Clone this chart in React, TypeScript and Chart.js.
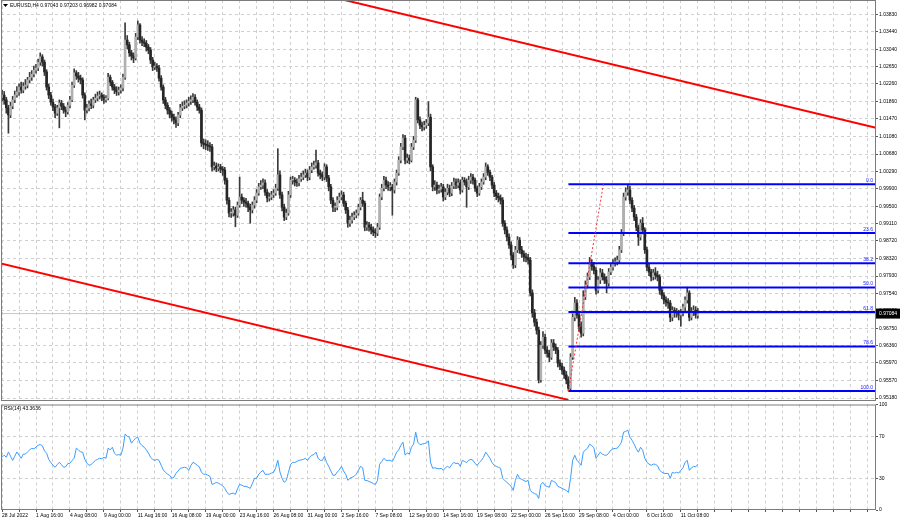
import React, { useEffect, useRef } from 'react';
import { Chart, registerables } from 'chart.js';
Chart.register(...registerables);

// Prices in 1/10000 units (EURUSD H4), bar 0 = 28 Jul 2022 00:00
const opens = [
10195,10201,10190,10172,10156,10176,10190,10201,10208,10219,
10212,10221,10223,10235,10241,10248,10257,10262,10275,10287,
10275,10253,10219,10201,10185,10174,10160,10172,10183,10176,
10167,10163,10178,10190,10223,10251,10244,10239,10235,10201,
10167,10172,10181,10178,10190,10194,10199,10201,10196,10190,
10194,10241,10230,10219,10212,10208,10212,10217,10241,10325,
10314,10296,10289,10284,10332,10359,10325,10320,10318,10309,
10302,10280,10264,10266,10262,10239,10219,10190,10178,10167,
10158,10151,10145,10138,10156,10172,10176,10178,10183,10187,
10190,10196,10185,10174,10167,10093,10090,10088,10086,10084,
10039,10041,10036,10039,10034,10032,10009,9964,9935,9935,
9942,9930,9953,9971,9964,9960,9957,9948,9942,9953,
9964,9980,9994,9998,10003,9982,9969,9971,9976,9980,
9991,10021,9976,9948,9926,9935,9976,10009,10009,10005,
10003,10012,10016,10021,10025,10016,10032,10039,10043,10048,
10025,10021,10016,10039,10014,9994,9964,9948,9948,9964,
9971,9976,9957,9942,9912,9919,9926,9930,9935,9948,
9964,9957,9903,9908,9903,9897,9892,9890,9903,9971,
9991,10009,9998,9994,9994,9987,10005,10025,10054,10084,
10104,10054,10059,10054,10084,10099,10190,10145,10133,10129,
10133,10138,10151,10039,9994,9998,9987,9989,9994,9971,
9982,9991,9980,9996,10005,9998,10003,9987,10009,10005,
9994,10009,10016,10009,9991,9980,9994,10005,10016,10039,
10027,10016,9998,9980,9973,9969,9964,9912,9897,9881,
9863,9840,9818,9852,9874,9852,9843,9836,9834,9829,
9755,9710,9689,9671,9559,9637,9655,9626,9619,9610,
9642,9633,9626,9597,9590,9581,9570,9559,9540,9610,
9700,9732,9705,9678,9664,9746,9773,9791,9822,9815,
9806,9761,9784,9800,9791,9784,9777,9802,9813,9822,
9825,9829,9852,9890,9971,9982,9987,9964,9946,9926,
9903,9881,9912,9897,9852,9813,9802,9791,9800,9795,
9791,9761,9750,9739,9734,9732,9700,9716,9712,9710,
9705,9710,9723,9739,9755,9700,9712,9716,9704
];

const highs = [
10212,10209,10196,10178,10185,10198,10210,10220,10226,10230,
10229,10236,10241,10252,10256,10266,10270,10282,10296,10292,
10280,10258,10226,10207,10192,10180,10178,10190,10189,10182,
10174,10184,10198,10230,10260,10256,10252,10246,10240,10206,
10180,10188,10192,10196,10203,10208,10210,10206,10202,10200,
10250,10246,10234,10225,10220,10219,10224,10248,10364,10335,
10320,10302,10296,10340,10368,10362,10333,10328,10324,10315,
10308,10286,10275,10272,10268,10245,10224,10196,10184,10173,
10165,10158,10152,10162,10180,10185,10188,10190,10196,10199,
10204,10202,10190,10180,10172,10102,10100,10098,10094,10090,
10050,10048,10046,10045,10040,10038,10014,9970,9945,9950,
9948,9960,10016,9978,9970,9968,9962,9955,9960,9972,
9988,10002,10008,10012,10010,9988,9980,9984,9988,10000,
10080,10030,9982,9955,9944,9984,10016,10018,10015,10012,
10020,10025,10030,10034,10032,10040,10048,10052,10077,10054,
10032,10028,10046,10044,10020,10000,9970,9958,9972,9980,
9985,9982,9962,9948,9928,9935,9938,9942,9955,9970,
9982,9962,9916,9914,9910,9904,9900,9912,9978,10000,
10018,10016,10006,10004,10000,10012,10032,10062,10092,10112,
10110,10068,10066,10092,10108,10196,10194,10152,10140,10142,
10146,10186,10158,10044,10008,10005,9998,10002,10000,9990,
10000,9998,10004,10014,10012,10012,10010,10016,10015,10012,
10018,10024,10022,10014,9996,10002,10012,10024,10048,10044,
10032,10020,10004,9986,9980,9976,9970,9918,9904,9888,
9870,9846,9860,9882,9880,9860,9850,9845,9842,9835,
9762,9718,9696,9678,9645,9668,9662,9634,9626,9650,
9650,9640,9632,9604,9596,9588,9578,9566,9618,9708,
9745,9740,9712,9690,9760,9782,9800,9835,9830,9824,
9812,9792,9810,9808,9798,9792,9810,9822,9830,9834,
9838,9860,9898,9980,9992,10000,9996,9970,9952,9932,
9908,9920,9925,9902,9858,9820,9808,9808,9812,9804,
9796,9768,9756,9746,9742,9738,9724,9722,9720,9716,
9718,9730,9746,9768,9760,9722,9726,9724,9720
];

const lows = [
10188,10180,10160,10115,10150,10170,10184,10196,10200,10205,
10206,10214,10217,10228,10234,10242,10250,10256,10268,10266,
10245,10212,10193,10178,10166,10150,10155,10127,10168,10160,
10152,10158,10172,10186,10218,10236,10230,10226,10194,10145,
10160,10165,10170,10172,10184,10188,10192,10188,10182,10185,
10190,10222,10212,10204,10200,10201,10205,10210,10236,10305,
10288,10280,10274,10280,10326,10318,10312,10310,10300,10294,
10272,10256,10258,10254,10232,10212,10182,10170,10158,10150,
10142,10136,10128,10132,10150,10166,10170,10172,10176,10180,
10184,10178,10166,10160,10085,10080,10078,10076,10074,10030,
10032,10028,10030,10026,10020,10000,9955,9926,9925,9928,
9904,9925,9948,9956,9950,9948,9938,9912,9935,9946,
9958,9975,9988,9990,9975,9960,9962,9965,9970,9975,
9986,9968,9940,9918,9920,9930,9970,10000,9996,9995,
9996,10006,10010,10015,10008,10010,10026,10034,10036,10018,
10012,10008,10010,10006,9985,9956,9938,9938,9942,9958,
9965,9950,9934,9903,9905,9912,9920,9924,9930,9942,
9950,9895,9896,9894,9888,9884,9880,9884,9898,9965,
9985,9990,9986,9985,9930,9980,9998,10020,10048,10078,
10046,10048,10046,10050,10078,10094,10138,10125,10120,10122,
10126,10132,10030,9985,9986,9978,9980,9982,9962,9965,
9976,9972,9974,9990,9990,9992,9978,9982,9998,9948,
9988,10002,10000,9984,9972,9975,9988,10000,10010,10020,
10008,9990,9972,9965,9960,9955,9905,9888,9872,9855,
9830,9810,9812,9846,9844,9835,9826,9825,9820,9748,
9700,9680,9662,9552,9554,9630,9618,9610,9600,9605,
9625,9618,9588,9582,9572,9562,9550,9534,9536,9605,
9692,9698,9668,9655,9658,9740,9766,9785,9806,9798,
9752,9755,9776,9784,9776,9755,9770,9796,9806,9815,
9818,9822,9846,9884,9964,9975,9956,9938,9918,9895,
9862,9874,9888,9844,9805,9794,9782,9784,9786,9782,
9752,9742,9730,9725,9720,9690,9692,9700,9700,9694,
9680,9703,9715,9732,9692,9694,9704,9698,9698
];

const closes = [
10201,10190,10172,10156,10176,10190,10201,10208,10219,10212,
10221,10223,10235,10241,10248,10257,10262,10275,10287,10275,
10253,10219,10201,10185,10174,10160,10172,10183,10176,10167,
10163,10178,10190,10223,10251,10244,10239,10235,10201,10167,
10172,10181,10178,10190,10194,10199,10201,10196,10190,10194,
10241,10230,10219,10212,10208,10212,10217,10241,10325,10314,
10296,10289,10284,10332,10359,10325,10320,10318,10309,10302,
10280,10264,10266,10262,10239,10219,10190,10178,10167,10158,
10151,10145,10138,10156,10172,10176,10178,10183,10187,10190,
10196,10185,10174,10167,10093,10090,10088,10086,10084,10039,
10041,10036,10039,10034,10032,10009,9964,9935,9935,9942,
9930,9953,9971,9964,9960,9957,9948,9942,9953,9964,
9980,9994,9998,10003,9982,9969,9971,9976,9980,9991,
10021,9976,9948,9926,9935,9976,10009,10009,10005,10003,
10012,10016,10021,10025,10016,10032,10039,10043,10048,10025,
10021,10016,10039,10014,9994,9964,9948,9948,9964,9971,
9976,9957,9942,9912,9919,9926,9930,9935,9948,9964,
9957,9903,9908,9903,9897,9892,9890,9903,9971,9991,
10009,9998,9994,9994,9987,10005,10025,10054,10084,10104,
10054,10059,10054,10084,10099,10190,10145,10133,10129,10133,
10138,10151,10039,9994,9998,9987,9989,9994,9971,9982,
9991,9980,9996,10005,9998,10003,9987,10009,10005,9994,
10009,10016,10009,9991,9980,9994,10005,10016,10039,10027,
10016,9998,9980,9973,9969,9964,9912,9897,9881,9863,
9840,9818,9852,9874,9852,9843,9836,9834,9829,9755,
9710,9689,9671,9559,9637,9655,9626,9619,9610,9642,
9633,9626,9597,9590,9581,9570,9559,9540,9610,9700,
9732,9705,9678,9664,9746,9773,9791,9822,9815,9806,
9761,9784,9800,9791,9784,9777,9802,9813,9822,9825,
9829,9852,9890,9971,9982,9987,9964,9946,9926,9903,
9881,9912,9897,9852,9813,9802,9791,9800,9795,9791,
9761,9750,9739,9734,9732,9700,9716,9712,9710,9705,
9710,9723,9739,9755,9700,9712,9716,9705,9708
];

const rsiValues = [
50,52,50,55,51,47,51,55,52,49,
53,53,55,57,58.5,58,59.5,61.4,62,61,
56,53.8,48,45,42.4,40.5,43,45.2,43,40.5,
41,44,44.3,47,49,58.6,57,55,54.8,48,
44.3,42.4,43,45.2,47,48,49,48.5,50,49,
58.6,57,59.5,53.8,52,52.5,51.9,58.6,71.9,70,
69,63.3,66,68,69,63.3,61,59.5,57,54,
50,48,47,48,47,42.4,38,35.7,34,32.9,
30,31,34.8,37,39.5,40,40.5,40,37.6,42,
45.2,44,42.4,41,35.7,34,33.8,33,31.9,24.3,
25,26.2,25.5,24.3,23,20.5,16.7,14.8,15.5,16,
14.8,20,24.3,23.5,22.4,22.4,21.5,20.5,25,30,
30,34,36,37.6,33.8,33.8,34,35,35.7,40,
47.1,36,30,26.2,28,35.7,43,45.2,45,46,
47.1,47.5,48,49,47,50,51.9,52.5,54.8,49,
47.1,47,51,45,41.4,37,32.9,33,36,38,
41.4,37,33.8,28.1,30,31,31.9,34,37.6,41.4,
40,28.1,28,27,26.2,25,24.3,28.1,43.3,46,
49,47,47.1,47.1,46,50,54.8,57,61.4,64.3,
52,54,53,59.5,62.4,73.8,64.3,62,62.4,63,
63.5,65.5,45.2,39.5,40,39.5,39,39.5,37.6,40,
41.4,40,43,45.2,44,44.5,41.4,47.1,46,45,
47.1,48,47.1,44,42.4,45,47.1,50,54.8,52,
49,45,42.4,41.4,40.5,39.5,30,28,26.2,24.3,
22.4,18.6,28.1,33.8,30,29,28,27,28.1,18.6,
16.7,15.5,14.8,11,24.3,26.2,23,22.4,21.5,28.1,
27,26,22.4,21.5,20.5,19.5,18.6,16.7,30,47.1,
51.9,47,45.2,42.4,54.8,57,58.6,62.4,61,59,
49,52,54.8,53,52,51.9,54,56.7,58,58.3,
58.6,61,64.3,73.8,74.5,75.7,69,66,62.4,58,
54.8,59.5,56.7,49,45.2,43.5,42.4,43.5,43.3,42,
37.6,36,34.8,34.5,34.8,30,35.7,35,35.7,35,
37.6,40,45.2,47.1,37.6,40,41.4,41,43.36
];

const timeLabelBars = [0,16,32,48,64,80,96,112,128,144,160,176,192,208,224,240,256,272,288,304,320];
const timeLabels = ['28 Jul 2022','1 Aug 16:00','4 Aug 08:00','9 Aug 00:00','11 Aug 16:00','16 Aug 08:00','19 Aug 00:00','23 Aug 16:00','26 Aug 08:00','31 Aug 00:00','2 Sep 16:00','7 Sep 08:00','12 Sep 00:00','14 Sep 16:00','19 Sep 08:00','22 Sep 00:00','26 Sep 16:00','29 Sep 08:00','4 Oct 00:00','6 Oct 16:00','11 Oct 08:00'];
const priceTicks = [1.0383,1.0344,1.0304,1.0265,1.0226,1.0186,1.0147,1.0108,1.0068,1.0029,0.999,0.995,0.9911,0.9872,0.9832,0.9793,0.9754,0.9715,0.9675,0.9636,0.9597,0.9557,0.9518];
const rsiTicks = [0,30,70,100];
const fibNames = ['0.0','23.6','38.2','50.0','61.8','78.6','100.0'];
const fibPrices = [1.0000,0.9890,0.9822,0.9767,0.9712,0.9634,0.9534];
const fibStartBar = 267;
const fibAnchorLine = [[267,0.9534],[283.5,1.0000]];
const upperChannel = [[160,1.04168],[412,1.0127]];
const lowerChannel = [[-1,0.9822],[267,0.95138]];
const lastPrice = 0.97084;
const titleText = 'EURUSD,H4 0.97043 0.97203 0.96982 0.97084';
const rsiTitle = 'RSI(14) 43.3636';

const X_MIN = -0.5;
const X_MAX = 412;
const FONT = '"Liberation Sans", Arial, sans-serif';
const GRID = '#cfcfcf';
const DASH = [3, 3];

const gridBars: number[] = [];
for (let b = 0; b <= 408; b += 8) gridBars.push(b);

const noPad = (s: any) => { s.paddingTop = 0; s.paddingBottom = 0; s.paddingLeft = 0; s.paddingRight = 0; };

const pricePlugin = {
  id: 'priceDecor',
  afterDraw(chart: any) {
    const { ctx, chartArea: a, scales } = chart;
    const y = scales.y;
    ctx.save();
    ctx.strokeStyle = '#7c7c7c';
    ctx.lineWidth = 1;
    ctx.strokeRect(a.left + 0.5, a.top + 0.5, a.right - a.left - 1, a.bottom - a.top);
    ctx.font = `5px ${FONT}`;
    ctx.fillStyle = '#2020ff';
    ctx.textAlign = 'right';
    ctx.textBaseline = 'bottom';
    fibNames.forEach((n, i) => ctx.fillText(n, a.right - 3, y.getPixelForValue(fibPrices[i]) - 1));
    ctx.fillStyle = '#000';
    ctx.beginPath();
    ctx.moveTo(3, 4); ctx.lineTo(8, 4); ctx.lineTo(5.5, 7); ctx.closePath(); ctx.fill();
    ctx.textAlign = 'left';
    ctx.textBaseline = 'middle';
    ctx.fillText(titleText, 10, 5.5);
    const py = y.getPixelForValue(lastPrice);
    ctx.fillStyle = '#000';
    ctx.fillRect(a.right, py - 5, 24, 10);
    ctx.fillStyle = '#fff';
    ctx.fillText(lastPrice.toFixed(5), a.right + 3, py + 0.5);
    ctx.restore();
  }
};

const rsiPlugin = {
  id: 'rsiDecor',
  afterDraw(chart: any) {
    const { ctx, chartArea: a } = chart;
    ctx.save();
    ctx.strokeStyle = '#7c7c7c';
    ctx.lineWidth = 1;
    ctx.strokeRect(a.left + 0.5, a.top + 0.5, a.right - a.left - 1, a.bottom - a.top - 1);
    ctx.font = `5px ${FONT}`;
    ctx.fillStyle = '#000';
    ctx.textAlign = 'left';
    ctx.textBaseline = 'top';
    ctx.fillText(rsiTitle, a.left + 3, a.top + 1.5);
    ctx.restore();
  }
};

export default function App() {
  const priceRef = useRef<HTMLCanvasElement>(null);
  const rsiRef = useRef<HTMLCanvasElement>(null);

  useEffect(() => {
    const idx = closes.map((_, i) => i);
    const P = (v: number) => v / 10000;
    const bodyColors = idx.map(i => (closes[i] >= opens[i] ? '#b0b0b0' : '#262626'));
    const lineDs = (pts: number[][], color: string, width: number, dash: number[] = [], order = 1) => ({
      type: 'line' as const,
      data: pts.map(p => ({ x: p[0], y: p[1] })),
      borderColor: color,
      borderWidth: width,
      borderDash: dash,
      pointRadius: 0,
      fill: false,
      tension: 0,
      order,
    });

    const priceChart = new Chart(priceRef.current!, {
      type: 'bar',
      data: {
        datasets: [
          lineDs([[X_MIN, lastPrice], [X_MAX, lastPrice]], '#c8c8c8', 1, [], 10) as any,
          {
            type: 'bar',
            data: idx.map(i => ({ x: i, y: [P(lows[i]), P(highs[i])] })),
            backgroundColor: '#3a3a3a',
            barThickness: 1,
            grouped: false,
            order: 6,
          } as any,
          {
            type: 'bar',
            data: idx.map(i => ({ x: i, y: [P(Math.min(opens[i], closes[i])), P(Math.max(opens[i], closes[i]))] })),
            backgroundColor: bodyColors,
            barThickness: 2,
            minBarLength: 1,
            grouped: false,
            order: 5,
          } as any,
          ...fibPrices.map(p => lineDs([[fibStartBar, p], [X_MAX, p]], '#0000ff', 2, [], 3) as any),
          lineDs(fibAnchorLine, '#ff3030', 1, [2, 2], 2) as any,
          lineDs(upperChannel, '#ff0000', 2, [], 1) as any,
          lineDs(lowerChannel, '#ff0000', 2, [], 1) as any,
        ],
      },
      options: {
        responsive: false,
        animation: false,
        devicePixelRatio: 1,
        events: [],
        layout: { padding: { left: 1, top: 0, right: 0, bottom: 1 } },
        plugins: { legend: { display: false }, tooltip: { enabled: false } },
        scales: {
          x: {
            type: 'linear',
            min: X_MIN,
            max: X_MAX,
            offset: false,
            grid: { color: GRID, offset: false, drawTicks: false },
            border: { display: false, dash: DASH },
            ticks: { display: false },
            afterBuildTicks: (s: any) => { s.ticks = gridBars.map(v => ({ value: v })); },
            afterFit: (s: any) => { s.height = 0; noPad(s); },
          },
          y: {
            type: 'linear',
            position: 'right',
            min: 0.95136,
            max: 1.04152,
            grid: { color: GRID, drawTicks: true, tickLength: 2, tickColor: '#555' },
            border: { display: false, dash: DASH },
            ticks: {
              autoSkip: false,
              padding: 1,
              color: '#000',
              font: { size: 5, family: FONT },
              callback: (v: any) => Number(v).toFixed(5),
            },
            afterBuildTicks: (s: any) => { s.ticks = priceTicks.map(v => ({ value: v })); },
            afterFit: (s: any) => { s.width = 24; noPad(s); },
          },
        },
      } as any,
      plugins: [pricePlugin],
    });

    const labelMap: Record<number, string> = {};
    timeLabelBars.forEach((b, i) => { labelMap[b] = timeLabels[i]; });

    const rsiChart = new Chart(rsiRef.current!, {
      type: 'line',
      data: {
        datasets: [
          {
            data: idx.map(i => ({ x: i, y: rsiValues[i] })),
            borderColor: '#3b9cff',
            borderWidth: 1,
            pointRadius: 0,
            tension: 0,
            fill: false,
          },
        ],
      },
      options: {
        responsive: false,
        animation: false,
        devicePixelRatio: 1,
        events: [],
        layout: { padding: { left: 1, top: 3.5, right: 0, bottom: 0 } },
        plugins: { legend: { display: false }, tooltip: { enabled: false } },
        scales: {
          x: {
            type: 'linear',
            min: X_MIN,
            max: X_MAX,
            offset: false,
            grid: { color: GRID, offset: false, drawTicks: true, tickLength: 2, tickColor: '#555' },
            border: { display: false, dash: DASH },
            ticks: {
              autoSkip: false,
              maxRotation: 0,
              minRotation: 0,
              align: 'start',
              padding: 1,
              color: '#000',
              font: { size: 5, family: FONT },
              callback: (v: any) => labelMap[v] ?? '',
            },
            afterBuildTicks: (s: any) => { s.ticks = gridBars.map(v => ({ value: v })); },
            afterFit: (s: any) => { s.height = 13; noPad(s); },
          },
          y: {
            type: 'linear',
            position: 'right',
            min: 0,
            max: 100,
            grid: {
              color: (c: any) => (c.tick && (c.tick.value === 30 || c.tick.value === 70) ? GRID : 'rgba(0,0,0,0)'),
              drawTicks: true,
              tickLength: 2,
              tickColor: '#555',
            },
            border: { display: false, dash: DASH },
            ticks: {
              autoSkip: false,
              padding: 1,
              color: '#000',
              font: { size: 5, family: FONT },
              callback: (v: any) => String(v),
            },
            afterBuildTicks: (s: any) => { s.ticks = rsiTicks.map(v => ({ value: v })); },
            afterFit: (s: any) => { s.width = 24; noPad(s); },
          },
        },
      } as any,
      plugins: [rsiPlugin],
    });

    return () => {
      priceChart.destroy();
      rsiChart.destroy();
    };
  }, []);

  return (
    <div style={{ position: 'absolute', left: 0, top: 0, width: 900, height: 523, background: '#fff', overflow: 'hidden' }}>
      <canvas ref={priceRef} width={900} height={401} style={{ position: 'absolute', left: 0, top: 0 }} />
      <canvas ref={rsiRef} width={900} height={122} style={{ position: 'absolute', left: 0, top: 401 }} />
    </div>
  );
}
